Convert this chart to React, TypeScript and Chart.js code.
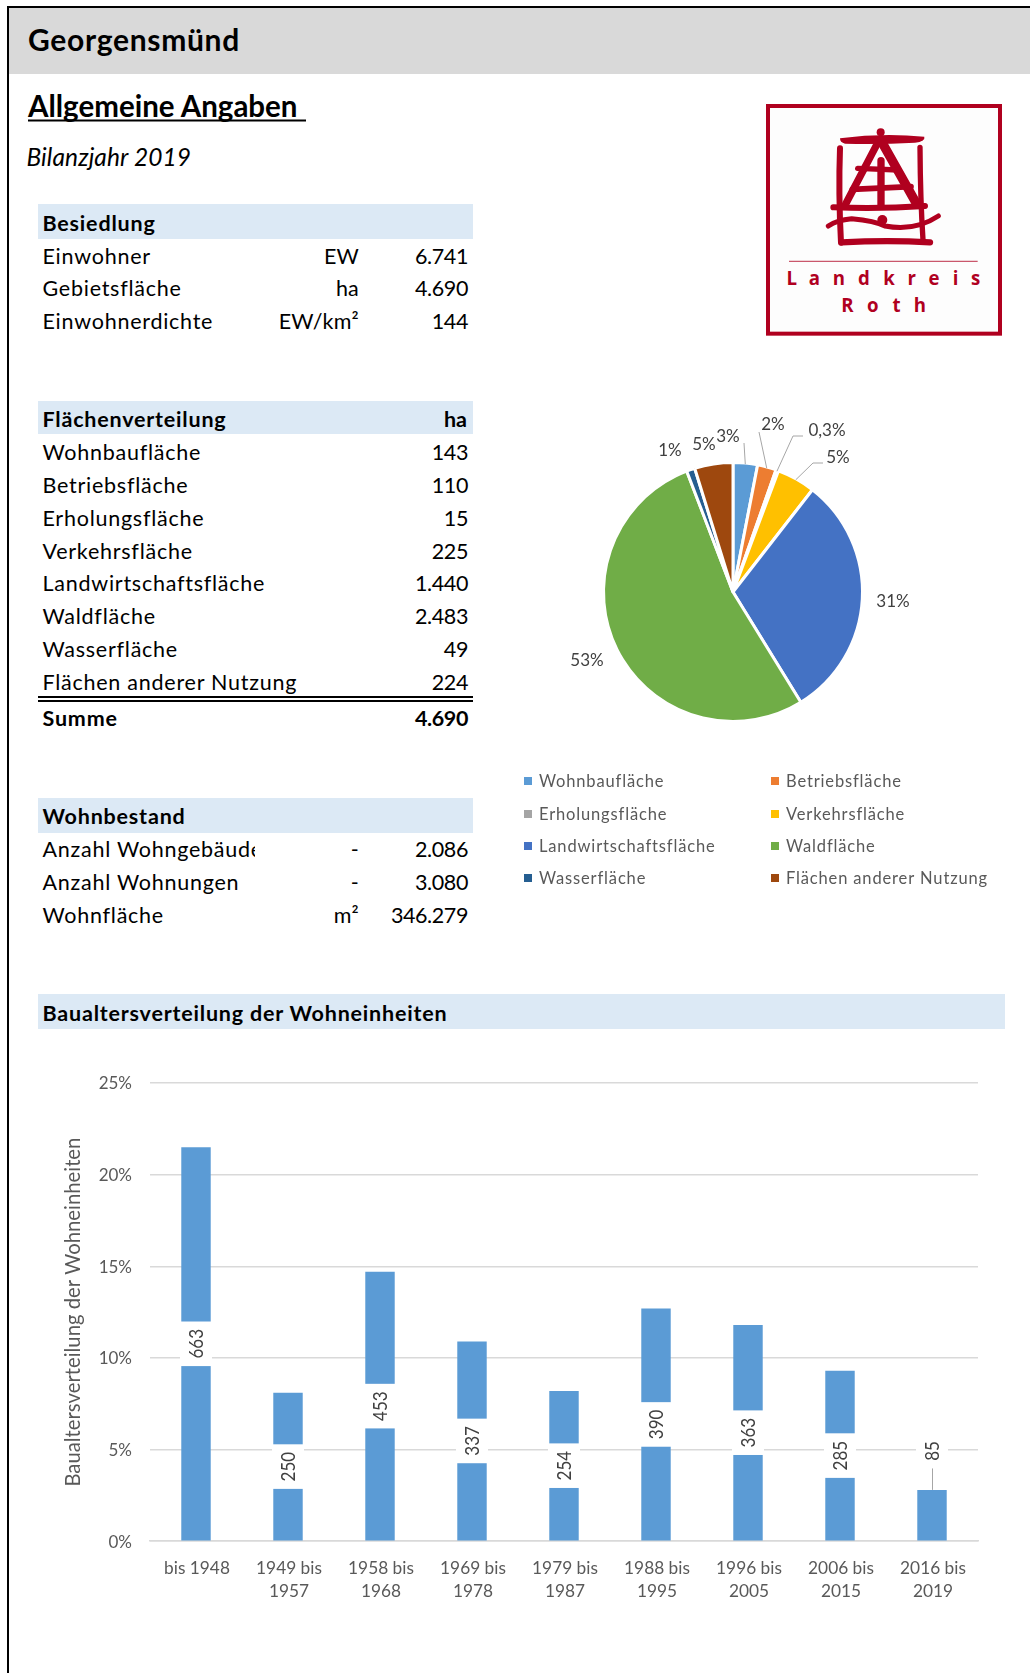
import React, { useEffect, useRef } from "react";
import { Chart, registerables } from "chart.js";

Chart.register(...registerables);

const FONT = "Lato, 'Noto Sans', sans-serif";
const GREY_TEXT = "#595959";

const besiedlungRows = [
  ["Einwohner", "EW", "6.741"],
  ["Gebietsfläche", "ha", "4.690"],
  ["Einwohnerdichte", "EW/km²", "144"],
];
const flaecheLabels = ["Wohnbaufläche", "Betriebsfläche", "Erholungsfläche", "Verkehrsfläche", "Landwirtschaftsfläche", "Waldfläche", "Wasserfläche", "Flächen anderer Nutzung"];
const flaecheText = ["143", "110", "15", "225", "1.440", "2.483", "49", "224"];
const flaecheValues = [143, 110, 15, 225, 1440, 2483, 49, 224];
const flaecheColors = ["#5b9bd5", "#ed7d31", "#a5a5a5", "#ffc000", "#4472c4", "#70ad47", "#255e91", "#9e480e"];
const piePercent = ["3%", "2%", "0,3%", "5%", "31%", "53%", "1%", "5%"];
const wohnRows = [
  ["Anzahl Wohngebäude", "-", "2.086"],
  ["Anzahl Wohnungen", "-", "3.080"],
  ["Wohnfläche", "m²", "346.279"],
];
const bauCategories = [["bis 1948"], ["1949 bis", "1957"], ["1958 bis", "1968"], ["1969 bis", "1978"], ["1979 bis", "1987"], ["1988 bis", "1995"], ["1996 bis", "2005"], ["2006 bis", "2015"], ["2016 bis", "2019"]];
const bauPercent = [21.5, 8.1, 14.7, 10.9, 8.2, 12.7, 11.8, 9.3, 2.8];
const bauCounts = [663, 250, 453, 337, 254, 390, 363, 285, 85];

// label placement around the pie, relative to the chart canvas
const pieLabelPos = [[208, 37], [253, 25], [307, 31], [318, 58], [373, 202], [67, 261], [150, 51], [184, 45]];
const pieLeaderEnd = [[[224, 43]], [[239, 32]], [[273, 36], [283, 36]], [[293, 63], [303, 63]], null, null, null, null];

const piePlugin = {
  id: "pieDecor",
  afterDraw(chart: any) {
    const { ctx } = chart;
    const arcs = chart.getDatasetMeta(0).data;
    ctx.save();
    ctx.strokeStyle = "#a6a6a6";
    ctx.lineWidth = 1;
    arcs.forEach((a: any, i: number) => {
      const leader = pieLeaderEnd[i];
      if (!leader) return;
      const mid = (a.startAngle + a.endAngle) / 2;
      ctx.beginPath();
      ctx.moveTo(a.x + Math.cos(mid) * (a.outerRadius - 1), a.y + Math.sin(mid) * (a.outerRadius - 1));
      leader.forEach((p) => ctx.lineTo(p[0], p[1]));
      ctx.stroke();
    });
    ctx.fillStyle = "#404040";
    ctx.font = `17px ${FONT}`;
    ctx.textAlign = "center";
    ctx.textBaseline = "middle";
    piePercent.forEach((t, i) => ctx.fillText(t, pieLabelPos[i][0], pieLabelPos[i][1]));

    ctx.font = `16.5px ${FONT}`;
    ctx.textAlign = "left";
    ctx.letterSpacing = "0.85px";
    (chart.data.labels as string[]).forEach((t, i) => {
      const col = i % 2;
      const row = (i - col) / 2;
      const x = col === 0 ? 4 : 251;
      const y = [381, 414, 446, 478][row];
      ctx.fillStyle = flaecheColors[i];
      ctx.fillRect(x, y - 4, 8, 8);
      ctx.fillStyle = GREY_TEXT;
      ctx.fillText(t, x + 15, y + 1);
    });
    ctx.restore();
  },
};

const barLabelPlugin = {
  id: "barLabels",
  afterDatasetsDraw(chart: any) {
    const { ctx } = chart;
    const bars = chart.getDatasetMeta(0).data;
    ctx.save();
    ctx.font = `17px ${FONT}`;
    bauCounts.forEach((c, i) => {
      const bar = bars[i];
      const outside = bauPercent[i] < 4;
      const cy = outside ? bar.y - 39 : (bar.y + bar.base) / 2;
      const text = String(c);
      const len = ctx.measureText(text).width;
      const boxLen = len + 15;
      if (outside) {
        ctx.strokeStyle = "#a6a6a6";
        ctx.lineWidth = 1;
        ctx.beginPath();
        ctx.moveTo(bar.x + 0.5, cy + boxLen / 2);
        ctx.lineTo(bar.x + 0.5, bar.y);
        ctx.stroke();
      }
      ctx.fillStyle = "#ffffff";
      ctx.fillRect(bar.x - 16, cy - boxLen / 2, 32, boxLen);
      ctx.save();
      ctx.translate(bar.x + 0.5, cy);
      ctx.rotate(-Math.PI / 2);
      ctx.scale(1, 1.12);
      ctx.fillStyle = "#404040";
      ctx.textAlign = "center";
      ctx.textBaseline = "middle";
      ctx.fillText(text, 0, 0);
      ctx.restore();
    });
    ctx.restore();
  },
};

const Txt = ({ x, y, a, b, i, s = 21.5, ls = 0, children }: any) => (
  <text x={x} y={y} textAnchor={a ? "end" : "start"} fontWeight={b ? 700 : 400} fontStyle={i ? "italic" : "normal"} fontSize={s} fontFamily={FONT} fill="#000" style={{ letterSpacing: ls }}>
    {children}
  </text>
);

const Logo = () => {
  const red = "#b0001f";
  const seg = (d: string, w: number) => <path d={d} fill="none" stroke={red} strokeWidth={w} strokeLinecap="round" />;
  const land = [[830, "L"], [898, "a"], [972, "n"], [1047, "d"], [1122, "k"], [1190, "r"], [1257, "e"], [1322, "i"], [1382, "s"]];
  const roth = [[997, "R"], [1073, "o"], [1145, "t"], [1215, "h"]];
  return (
    <svg style={{ position: "absolute", left: 515, top: 0 }} width={515} height={400} viewBox="0 0 1545 1200">
      <rect x={759} y={318} width={696} height={683} fill="#fdfdfd" stroke={red} strokeWidth={12} />
      <path d="M975,415 Q1100,398 1228,410 Q1232,424 1200,428 Q1090,434 990,431 Q975,428 975,415 Z" fill={red} />
      <circle cx={1097} cy={397} r={12} fill={red} />
      {seg("M1090,425 L992,612", 22)}
      {seg("M1100,425 L1205,612", 28)}
      {seg("M1098,482 L1098,615", 22)}
      {seg("M1028,505 L1150,510", 16)}
      {seg("M1012,568 L1188,560", 17)}
      {seg("M975,445 Q970,580 978,728", 18)}
      {seg("M1215,442 Q1216,600 1224,720", 16)}
      {seg("M955,622 Q1090,628 1230,618", 18)}
      {seg("M940,678 Q965,660 1010,656 Q1080,662 1110,678 Q1200,695 1270,648", 15)}
      <circle cx={1102} cy={660} r={15} fill={red} />
      {seg("M980,727 Q1120,720 1245,727", 19)}
      <line x1={822} y1={784} x2={1388} y2={784} stroke={red} strokeWidth={4} opacity={0.65} />
      {land.map(([x, t]) => (
        <text key={String(x)} x={x as number} y={855} textAnchor="middle" fontFamily="'Open Sans', sans-serif" fontWeight={700} fontSize={56} fill={red}>{t}</text>
      ))}
      {roth.map(([x, t]) => (
        <text key={String(x)} x={x as number} y={935} textAnchor="middle" fontFamily="'Open Sans', sans-serif" fontWeight={700} fontSize={56} fill={red}>{t}</text>
      ))}
    </svg>
  );
};

export default function App() {
  const pieRef = useRef<HTMLCanvasElement>(null);
  const barRef = useRef<HTMLCanvasElement>(null);

  useEffect(() => {
    const pie = new Chart(pieRef.current!, {
      type: "pie",
      data: { labels: flaecheLabels, datasets: [{ data: flaecheValues, backgroundColor: flaecheColors, borderColor: "#ffffff", borderWidth: 3 }] },
      options: {
        animation: false,
        responsive: false,
        layout: { padding: { left: 82, right: 166, top: 61, bottom: 177 } },
        plugins: { legend: { display: false }, tooltip: { enabled: false } },
      },
      plugins: [piePlugin],
    } as any);

    const bar = new Chart(barRef.current!, {
      type: "bar",
      data: { labels: bauCategories, datasets: [{ data: bauPercent, backgroundColor: "#5b9bd5", categoryPercentage: 1, barPercentage: 0.32 }] },
      options: {
        animation: false,
        responsive: false,
        layout: { padding: { left: 0, right: 52, top: 43, bottom: 0 } },
        plugins: { legend: { display: false }, tooltip: { enabled: false } },
        scales: {
          x: {
            grid: { display: false },
            border: { color: "#d9d9d9", width: 1.5 },
            ticks: { color: GREY_TEXT, font: { family: FONT, size: 17.3, lineHeight: 1.36 }, maxRotation: 0, autoSkip: false, padding: 7, labelOffset: 1 },
            afterFit: (s: any) => { s.height = 131.8; },
          },
          y: {
            min: 0,
            max: 25,
            ticks: { stepSize: 5, color: GREY_TEXT, font: { family: FONT, size: 17 }, padding: 18, labelOffset: 1, callback: (v: any) => `${v}%` },
            grid: { color: "#d9d9d9", lineWidth: 1.5, drawTicks: false },
            border: { display: false },
            title: { display: true, text: "Baualtersverteilung der Wohneinheiten", color: GREY_TEXT, font: { family: FONT, size: 20.3 }, padding: { top: 61, bottom: 0 } },
            afterFit: (s: any) => { s.width = 150; },
          },
        },
      },
      plugins: [barLabelPlugin],
    } as any);

    return () => {
      pie.destroy();
      bar.destroy();
    };
  }, []);

  const band = (x: number, y: number, w: number, h: number) => <rect x={x} y={y} width={w} height={h} fill="#dce9f5" />;
  const flY = [460, 493, 526, 559, 591, 624, 657, 690];
  const LS = 0.75;
  const BLS = 0.8;
  const NLS = -0.4;
  const VX = 468;

  return (
    <div style={{ position: "absolute", left: 0, top: 0, width: 1030, height: 1673, overflow: "hidden", background: "#fff" }}>
      <svg style={{ position: "absolute", left: 0, top: 0 }} width={1030} height={1673}>
        <defs>
          <clipPath id="wclip"><rect x={38} y={830} width={217} height={40} /></clipPath>
        </defs>
        <rect x={8} y={8} width={1022} height={66} fill="#d9d9d9" />
        <rect x={7} y={6} width={1023} height={2} fill="#000" />
        <rect x={7} y={6} width={2} height={1667} fill="#000" />
        <Txt x={28} y={51} b s={30} ls={0.7}>Georgensmünd</Txt>
        <Txt x={28} y={117} b s={29.5}>Allgemeine Angaben</Txt>
        <rect x={28} y={119.5} width={278} height={2} fill="#000" />
        <Txt x={26.5} y={166} i s={24.5} ls={0.1}>Bilanzjahr 2019</Txt>

        {band(38, 204, 435, 35)}
        <Txt x={42.5} y={231} b ls={BLS}>Besiedlung</Txt>
        {besiedlungRows.map((r, i) => {
          const y = [264, 296, 329][i];
          return (
            <g key={r[0]}>
              <Txt x={42.5} y={y} ls={LS}>{r[0]}</Txt>
              <Txt x={359} y={y} a ls={0.2}>{r[1]}</Txt>
              <Txt x={VX} y={y} a ls={NLS}>{r[2]}</Txt>
            </g>
          );
        })}

        {band(38, 401, 435, 33)}
        <Txt x={42.5} y={427} b ls={BLS}>Flächenverteilung</Txt>
        <Txt x={467} y={427} a b>ha</Txt>
        {flaecheLabels.map((l, i) => (
          <g key={l}>
            <Txt x={42.5} y={flY[i]} ls={LS}>{l}</Txt>
            <Txt x={VX} y={flY[i]} a ls={NLS}>{flaecheText[i]}</Txt>
          </g>
        ))}
        <rect x={38} y={696} width={435} height={2} fill="#000" />
        <rect x={38} y={700} width={435} height={2} fill="#000" />
        <Txt x={42.5} y={726} b ls={BLS}>Summe</Txt>
        <Txt x={VX} y={726} a b ls={NLS}>4.690</Txt>

        {band(38, 798, 435, 35)}
        <Txt x={42.5} y={823.5} b ls={BLS}>Wohnbestand</Txt>
        {wohnRows.map((r, i) => {
          const y = [857, 890, 923][i];
          return (
            <g key={r[0]}>
              <g clipPath={i === 0 ? "url(#wclip)" : undefined}>
                <Txt x={42.5} y={y} ls={LS}>{r[0]}</Txt>
              </g>
              <Txt x={359} y={y} a ls={0.2}>{r[1]}</Txt>
              <Txt x={VX} y={y} a ls={NLS}>{r[2]}</Txt>
            </g>
          );
        })}

        {band(38, 994, 967, 35)}
        <Txt x={42.5} y={1021} b ls={BLS}>Baualtersverteilung der Wohneinheiten</Txt>
      </svg>
      <Logo />
      <canvas ref={pieRef} width={510} height={500} style={{ position: "absolute", left: 520, top: 400, width: 510, height: 500 }} />
      <canvas ref={barRef} width={1030} height={633} style={{ position: "absolute", left: 0, top: 1040, width: 1030, height: 633 }} />
    </div>
  );
}
